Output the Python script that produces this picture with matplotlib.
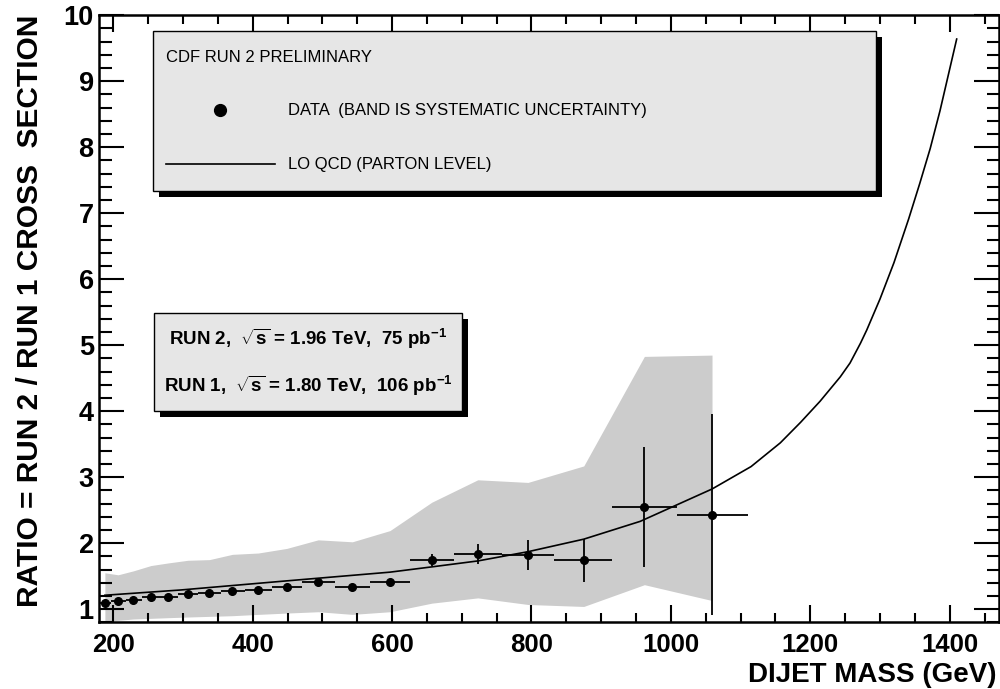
import numpy as np
import matplotlib
matplotlib.use("Agg")
import matplotlib.pyplot as plt
from matplotlib import font_manager
from matplotlib.patches import Rectangle
from matplotlib.lines import Line2D
from matplotlib.ticker import MultipleLocator

# dijet mass bins (GeV) and measured Run 2 / Run 1 ratio
bin_lo = [180, 197, 218, 241, 267, 293, 322, 354, 389, 428, 471, 518, 569, 626, 689, 757, 833, 916, 1009]
bin_hi = [197, 218, 241, 267, 293, 322, 354, 389, 428, 471, 518, 569, 626, 689, 757, 833, 916, 1009, 1110]
mass = [188, 207, 229, 254, 279, 307, 338, 371, 408, 449, 494, 543, 597, 657, 723, 795, 875, 962, 1059]
ratio = [1.09, 1.12, 1.14, 1.18, 1.19, 1.23, 1.25, 1.28, 1.29, 1.33, 1.41, 1.34, 1.41, 1.75, 1.84, 1.82, 1.74, 2.55, 2.43]
stat_err = [0.02, 0.02, 0.02, 0.02, 0.02, 0.02, 0.02, 0.03, 0.03, 0.03, 0.03, 0.04, 0.05, 0.09, 0.15, 0.22, 0.33, 0.91, 1.52]

# systematic band edges at each bin
sys_lo = [0.82, 0.83, 0.85, 0.86, 0.87, 0.88, 0.89, 0.90, 0.92, 0.94, 0.96, 0.92, 0.96, 1.09, 1.17, 1.07, 1.04, 1.37, 1.13]
sys_hi = [1.55, 1.52, 1.58, 1.66, 1.70, 1.74, 1.75, 1.83, 1.85, 1.92, 2.05, 2.02, 2.19, 2.62, 2.96, 2.92, 3.17, 4.83, 4.85]

# LO QCD prediction
qcd_mass = [188, 297, 440, 597, 657, 723, 795, 875, 899, 956, 1059, 1115, 1157, 1186, 1214, 1243,
            1257, 1272, 1281, 1300, 1320, 1341, 1357, 1372, 1386, 1410]
qcd_ratio = [1.21, 1.29, 1.42, 1.56, 1.64, 1.73, 1.87, 2.06, 2.14, 2.33, 2.82, 3.16, 3.52, 3.83, 4.15, 4.52,
             4.73, 5.03, 5.23, 5.70, 6.25, 6.91, 7.45, 7.98, 8.55, 9.64]

names = {f.name for f in font_manager.fontManager.ttflist}
narrow = "Liberation Sans Narrow" if "Liberation Sans Narrow" in names else "Liberation Sans"
narrow_size = 14 if narrow == "Liberation Sans Narrow" else 12

plt.rcParams["font.family"] = ["Liberation Sans", "DejaVu Sans"]
plt.rcParams["mathtext.fontset"] = "custom"
plt.rcParams["mathtext.rm"] = "Liberation Sans:bold"
plt.rcParams["mathtext.it"] = "Liberation Sans:bold"
plt.rcParams["mathtext.bf"] = "Liberation Sans:bold"

W, H = 1000, 689
fig = plt.figure(figsize=(W / 100, H / 100), dpi=100)
ax = fig.add_axes([0.0993, 1 - 622.3 / H, 0.8992, 607.0 / H])


def fx(px):
    return px / W


def fy(py):
    return 1 - py / H


mass = np.array(mass)
xerr = [mass - np.array(bin_lo), np.array(bin_hi) - mass]

ax.fill_between(mass, sys_lo, sys_hi, color="#cccccc", lw=0, zorder=1)
ax.plot(qcd_mass, qcd_ratio, color="black", lw=1.2, zorder=3)
ax.errorbar(mass, ratio, xerr=xerr, yerr=stat_err, fmt="o", color="black", ms=5.5,
            elinewidth=1.3, capsize=0, zorder=4)

ax.set_xlim(180, 1470)
ax.set_ylim(0.8, 10)
ax.xaxis.set_major_locator(MultipleLocator(200))
ax.xaxis.set_minor_locator(MultipleLocator(50))
ax.yaxis.set_major_locator(MultipleLocator(1))
ax.yaxis.set_minor_locator(MultipleLocator(0.2))
ax.tick_params(which="both", direction="in", top=True, right=True, width=1.5)
ax.tick_params(axis="x", which="major", length=12.5, pad=8)
ax.tick_params(axis="x", which="minor", length=6.5)
ax.tick_params(axis="y", which="major", length=18, pad=4)
ax.tick_params(axis="y", which="minor", length=9)
for lab in ax.get_xticklabels():
    lab.set_fontsize(18.5)
    lab.set_fontweight("bold")
for lab in ax.get_yticklabels():
    lab.set_fontsize(19.5)
    lab.set_fontweight("bold")
for sp in ax.spines.values():
    sp.set_linewidth(1.8)

ax.set_xlabel("DIJET MASS (GeV)", fontsize=20, fontweight="bold", ha="right", va="center")
ax.xaxis.set_label_coords(0.9975, -0.087)
ax.set_ylabel("RATIO = RUN 2 / RUN 1 CROSS  SECTION", fontsize=21.5, fontweight="bold", va="center")
ax.yaxis.set_label_coords(-0.077, 0.513)


def shadow_box(x0, y0, x1, y1, off=6):
    fig.add_artist(Rectangle((fx(x0 + off), fy(y1 + off)), fx(x1 - x0), (y1 - y0) / H,
                             transform=fig.transFigure, facecolor="black", edgecolor="none", zorder=5))
    fig.add_artist(Rectangle((fx(x0), fy(y1)), fx(x1 - x0), (y1 - y0) / H,
                             transform=fig.transFigure, facecolor="#e6e6e6", edgecolor="black",
                             lw=1.0, zorder=6))


# legend box
shadow_box(153, 31, 876, 191)
fig.text(fx(166), fy(58), "CDF RUN 2 PRELIMINARY", family=narrow, fontsize=narrow_size,
         va="center", zorder=7)
fig.add_artist(Line2D([fx(220)], [fy(110)], marker="o", ms=8.5, color="black",
                      transform=fig.transFigure, zorder=7))
fig.text(fx(288), fy(110), "DATA  (BAND IS SYSTEMATIC UNCERTAINTY)", family=narrow,
         fontsize=narrow_size, va="center", zorder=7)
fig.add_artist(Line2D([fx(166), fx(275)], [fy(164), fy(164)], color="black", lw=1.2,
                      transform=fig.transFigure, zorder=7))
fig.text(fx(288), fy(164), "LO QCD (PARTON LEVEL)", family=narrow, fontsize=narrow_size,
         va="center", zorder=7)

# run conditions box
shadow_box(154, 313, 462, 411)
fig.text(fx(308), fy(339), r"RUN 2,  $\sqrt{s}$ = 1.96 TeV,  75 pb$^{-1}$", fontsize=13.5,
         fontweight="bold", ha="center", va="center", zorder=7)
fig.text(fx(308), fy(386), r"RUN 1,  $\sqrt{s}$ = 1.80 TeV,  106 pb$^{-1}$", fontsize=13.5,
         fontweight="bold", ha="center", va="center", zorder=7)

fig.savefig("out.png", dpi=100)
